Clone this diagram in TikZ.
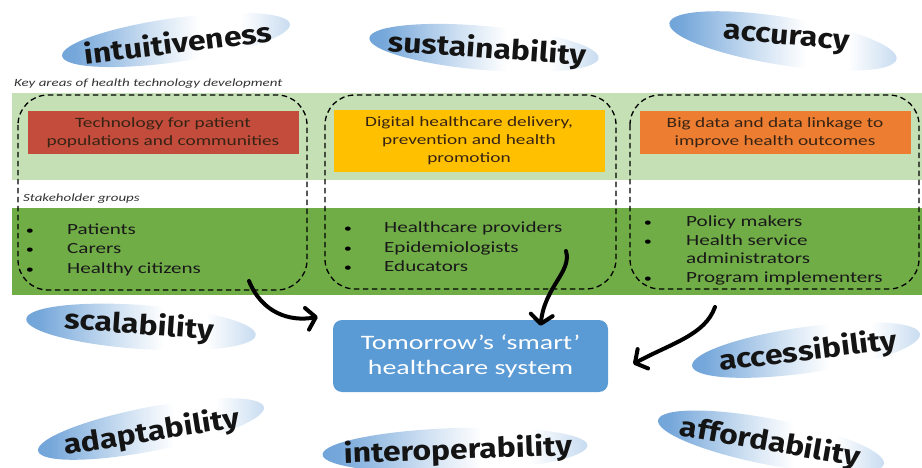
\documentclass[tikz,border=0pt]{standalone}
\usepackage{fontspec}
\setmainfont{Carlito}[FakeStretch=1.36]
\newfontfamily\artfont{Fira Sans}[FakeStretch=1.16]
\usetikzlibrary{shapes.geometric,arrows.meta}

\definecolor{paleband}{RGB}{197,224,180}
\definecolor{deepband}{RGB}{112,173,71}
\definecolor{topicred}{RGB}{195,76,60}
\definecolor{topicyellow}{RGB}{255,192,0}
\definecolor{topicorange}{RGB}{237,125,49}
\definecolor{smartblue}{RGB}{91,155,213}
\definecolor{ovalblue}{RGB}{72,138,206}
\definecolor{topictext}{RGB}{55,35,20}

% blue at both ends of an oval, fading to white a little right of its centre
\pgfdeclarehorizontalshading{ovalshade}{100bp}{
  color(0bp)=(ovalblue);
  color(28bp)=(ovalblue!75);
  color(45bp)=(ovalblue!25);
  color(55bp)=(white);
  color(64bp)=(white);
  color(80bp)=(ovalblue!45);
  color(100bp)=(ovalblue!90)}

\tikzset{
  band/.style={fill=#1, draw=none},
  area/.style={draw=black, line width=1.3pt, dash pattern=on 5.5pt off 3.5pt, rounded corners=30pt},
  topic/.style={fill=#1, align=center, inner sep=0pt, minimum width=271pt,
    text=topictext, font=\fontsize{14.2}{17.8}\selectfont},
  caption/.style={anchor=base west, inner sep=0pt, font=\itshape\fontsize{11}{12}\selectfont, text=black!80},
  item/.style={anchor=base west, inner sep=0pt, font=\fontsize{15.5}{19}\selectfont, text=black!90},
  bullet/.style={anchor=base, inner sep=0pt, font=\fontsize{12}{19}\selectfont},
  oval/.style={ellipse, draw=none, inner sep=0pt, minimum width=230pt, minimum height=44pt,
    shading=ovalshade},
  ovaltext/.style={inner sep=0pt, text=black!92, font=\artfont\bfseries\fontsize{27.5}{28}\selectfont},
  smart/.style={fill=smartblue, rounded corners=9pt, align=center, text=white,
    minimum width=275pt, minimum height=72pt, font=\fontsize{20.5}{25}\selectfont},
  flow/.style={line width=4pt, line cap=round, -{Straight Barb[length=9pt,width=22pt,round]}},
}

\begin{document}
\begin{tikzpicture}[x=1pt,y=-1pt]
\useasboundingbox (0,0) rectangle (922,468);

% background bands
\fill[band=paleband] (12,93) rectangle (922,180);
\fill[band=deepband] (12,208) rectangle (922,295);
\node[caption] (keycap) at (14,87) {Key areas of health technology development};
\node[caption] (stakecap) at (23,202) {Stakeholder groups};

% key areas
\node[topic=topicred, minimum height=43pt] (tech) at (163,133) {Technology for patient\\populations and communities};
\node[topic=topicyellow, minimum height=62pt] (digital) at (469,141) {Digital healthcare delivery,\\prevention and health\\promotion};
\node[topic=topicorange, minimum height=43pt] (bigdata) at (775,133) {Big data and data linkage to\\improve health outcomes};

% stakeholder groups
\node[bullet] (b11) at (30,235) {•};
\node[item] (patients) at (67,235) {Patients};
\node[bullet] (b12) at (30,254) {•};
\node[item] (carers) at (67,254) {Carers};
\node[bullet] (b13) at (30,273) {•};
\node[item] (citizens) at (67,273) {Healthy citizens};

\node[bullet] (b21) at (348,233) {•};
\node[item] (providers) at (384,233) {Healthcare providers};
\node[bullet] (b22) at (348,252) {•};
\node[item] (epi) at (384,252) {Epidemiologists};
\node[bullet] (b23) at (348,271) {•};
\node[item] (educators) at (384,271) {Educators};

\node[bullet] (b31) at (648,226) {•};
\node[item] (policy) at (686,226) {Policy makers};
\node[bullet] (b32) at (648,245) {•};
\node[item] (hsa) at (686,245) {Health service};
\node[item] (admin) at (686,264) {administrators};
\node[bullet] (b34) at (648,283) {•};
\node[item] (program) at (686,283) {Program implementers};

% dashed groupings
\draw[area] (18,95) rectangle (307,290);
\draw[area] (325,95) rectangle (616,289);
\draw[area] (630,95) rectangle (919,289);

% target system
\node[smart] (system) at (470.5,356) {Tomorrow’s ‘smart’\\healthcare system};

% connectors
\coordinate (s1) at (249,281);
\coordinate (e1) at ([xshift=-15pt,yshift=3pt]system.north west);
\coordinate (s2) at (566,251);
\coordinate (e2) at ([xshift=70pt,yshift=-6pt]system.north);
\coordinate (s3) at (715,307);
\coordinate (e3) at ([xshift=25pt,yshift=-8pt]system.east);
\draw[flow] (s1) .. controls (262,313) and (290,322) .. (e1);
\draw[flow] (s2) .. controls (572,272) and (545,286) .. (e2);
\draw[flow] (s3) .. controls (705,335) and (672,343) .. (e3);

% qualities
\node[oval, rotate=8] (o1) at (176,40) {};
\node[ovaltext, rotate=7] (intuit) at (178,42) {intuitiveness};
\node[oval, rotate=-5] (o2) at (484,48) {};
\node[ovaltext, rotate=-4] (sustain) at (487,50) {sustainability};
\node[oval, rotate=-9, minimum height=48pt] (o3) at (783,41) {};
\node[ovaltext, rotate=-5] (accur) at (786,40) {accuracy};
\node[oval, rotate=-4] (o4) at (141,327) {};
\node[ovaltext, rotate=-4] (scal) at (139,326) {scalability};
\node[oval, rotate=11] (o5) at (151,429) {};
\node[ovaltext, rotate=9] (adapt) at (152,433) {adaptability};
\node[oval, rotate=2, minimum width=265pt] (o6) at (455,450) {};
\node[ovaltext, rotate=2] (interop) at (458,451) {interoperability};
\node[oval, rotate=8, minimum height=46pt] (o7) at (806,350) {};
\node[ovaltext, rotate=7] (access) at (808,352) {accessibility};
\node[oval, rotate=-11, minimum height=46pt] (o8) at (771,442) {};
\node[ovaltext, rotate=-10] (afford) at (770,443) {affordability};
\end{tikzpicture}
\end{document}
